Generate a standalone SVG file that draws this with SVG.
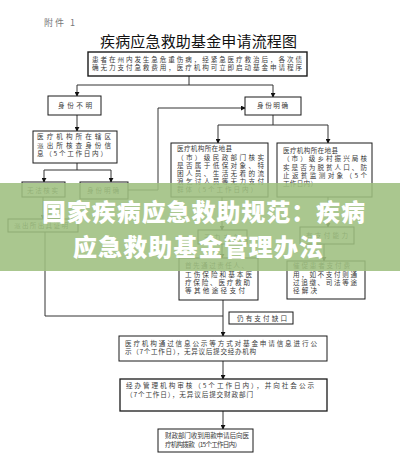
<svg xmlns="http://www.w3.org/2000/svg" width="400" height="457" viewBox="0 0 400 457">
<style>
.b{fill:#fff;stroke:#1a1a1a;stroke-width:1}
.t{font-family:"Noto Sans CJK SC","Noto Sans",sans-serif;font-size:6.6px;fill:#3a3a3a}
.c{fill:none;stroke:#333;stroke-width:1}
.ban{font-family:"Noto Sans CJK SC","Noto Sans",sans-serif;font-size:24px;font-weight:900;fill:#fff}
</style>
<defs>
<marker id="ar" viewBox="0 0 6 6" refX="5" refY="3" markerWidth="5" markerHeight="5" orient="auto" markerUnits="userSpaceOnUse">
<path d="M0,0 L6,3 L0,6 z" fill="#111"/>
</marker>
</defs>
<rect width="400" height="457" fill="#fff"/>
<text x="44" y="26" style="font-family:'Noto Sans CJK SC',sans-serif;font-size:9px;fill:#777" textLength="31" lengthAdjust="spacing">附件 1</text>
<text x="100" y="47" style="font-family:'Noto Sans CJK SC',sans-serif;font-size:15px;fill:#111" textLength="197" lengthAdjust="spacing">疾病应急救助基金申请流程图</text>

<g id="connectors">
<path class="c" d="M189,76 V85 M77,85 H273"/>
<path class="c" d="M77,85 V96" marker-end="url(#ar)"/>
<path class="c" d="M273,85 V97" marker-end="url(#ar)"/>
<path class="c" d="M77,115 V131" marker-end="url(#ar)"/>
<path class="c" d="M77,163 V170 M44,170 H111"/>
<path class="c" d="M44,170 V182" marker-end="url(#ar)"/>
<path class="c" d="M111,170 V182" marker-end="url(#ar)"/>
<path class="c" d="M128,190 H158 V108 H245" marker-end="url(#ar)"/>
<path class="c" d="M273,115 V125 M218,125 H328"/>
<path class="c" d="M218,125 V143" marker-end="url(#ar)"/>
<path class="c" d="M328,125 V143" marker-end="url(#ar)"/>
<path class="c" d="M43,197 V219" marker-end="url(#ar)"/>
<path class="c" d="M45,232 V316 H223"/>
<path class="c" d="M222,197 V230" marker-end="url(#ar)"/>
<path class="c" d="M328,197 V227" marker-end="url(#ar)"/>
<path class="c" d="M222,244 V258" marker-end="url(#ar)"/>
<path class="c" d="M324,244 V261" marker-end="url(#ar)"/>
<path class="c" d="M223,300 V336" marker-end="url(#ar)"/>
<path class="c" d="M223,361 V379" marker-end="url(#ar)"/>
<path class="c" d="M223,411 V429" marker-end="url(#ar)"/>
</g>

<g id="start">
<rect class="b" x="88" y="52" width="219" height="24" style="stroke-width:1.4"/>
<text class="t" x="92" y="62" textLength="210" lengthAdjust="spacing">患者在州内发生急危重伤病，经紧急医疗救治后，各次债</text>
<text class="t" x="92" y="70" textLength="210" lengthAdjust="spacing">确无力支付急救费用，医疗机构可立即启动基金申请程序</text>
</g>
<g id="unknown">
<rect class="b" x="48" y="96" width="53" height="19"/>
<text class="t" x="58" y="108" textLength="34" lengthAdjust="spacing">身份不明</text>
</g>
<g id="known">
<rect class="b" x="245" y="97" width="56" height="18"/>
<text class="t" x="257" y="108" textLength="31" lengthAdjust="spacing">身份明确</text>
</g>
<g id="police">
<rect class="b" x="33" y="131" width="84" height="32"/>
<text class="t" x="37" y="139" textLength="74" lengthAdjust="spacing">医疗机构所在辖区</text>
<text class="t" x="37" y="148" textLength="74" lengthAdjust="spacing">派出所核查身份信</text>
<text class="t" x="37" y="156" textLength="70" lengthAdjust="spacing">息（5个工作日内）</text>
</g>
<g id="cannot">
<rect class="b" x="22" y="182" width="43" height="15"/>
<text class="t" x="27" y="193" textLength="31" lengthAdjust="spacing">无法核实</text>
</g>
<g id="known2">
<rect class="b" x="80" y="182" width="48" height="17"/>
<text class="t" x="87" y="193" textLength="32" lengthAdjust="spacing">身份明确</text>
</g>
<g id="civil">
<rect class="b" x="171" y="143" width="97" height="54"/>
<text class="t" x="177" y="151" textLength="55" lengthAdjust="spacing">医疗机构所在地县</text>
<text class="t" x="177" y="160" textLength="87" lengthAdjust="spacing">（市）级民政部门核实</text>
<text class="t" x="177" y="168" textLength="87" lengthAdjust="spacing">是否属于低保对象、特</text>
<text class="t" x="177" y="176" textLength="87" lengthAdjust="spacing">困人员、生活无着的流</text>
<text class="t" x="177" y="184" textLength="87" lengthAdjust="spacing">浪乞讨人员等无力支付</text>
<text class="t" x="177" y="192" textLength="80" lengthAdjust="spacing">群体（5个工作日内）</text>
</g>
<g id="rural">
<rect class="b" x="277" y="143" width="95" height="54"/>
<text class="t" x="283" y="153" textLength="55" lengthAdjust="spacing">医疗机构所在地县</text>
<text class="t" x="283" y="161" textLength="84" lengthAdjust="spacing">（市）级乡村振兴局核</text>
<text class="t" x="283" y="170" textLength="84" lengthAdjust="spacing">实是否为脱贫人口、防</text>
<text class="t" x="283" y="178" textLength="84" lengthAdjust="spacing">止返贫监测对象（5个</text>
<text class="t" x="283" y="186" textLength="34" lengthAdjust="spacing">工作日内）</text>
</g>
<g id="proof">
<rect class="b" x="8" y="219" width="70" height="13"/>
<text class="t" x="14" y="228" textLength="54" lengthAdjust="spacing">派出所出具证明</text>
</g>
<g id="nopay">
<rect class="b" x="198" y="230" width="49" height="14"/>
<text class="t" x="204" y="240" textLength="36" lengthAdjust="spacing">无力支付</text>
</g>
<g id="canpay">
<rect class="b" x="300" y="227" width="54" height="17"/>
<text class="t" x="306" y="238" textLength="42" lengthAdjust="spacing">有支付能力</text>
</g>
<g id="first">
<rect class="b" x="179" y="258" width="79" height="42"/>
<text class="t" x="185" y="268" textLength="63" lengthAdjust="spacing">首先通过责任人、</text>
<text class="t" x="185" y="277" textLength="67" lengthAdjust="spacing">工伤保险和基本医</text>
<text class="t" x="185" y="285" textLength="65" lengthAdjust="spacing">疗保险、医疗救助</text>
<text class="t" x="185" y="293" textLength="60" lengthAdjust="spacing">等其他途径支付</text>
</g>
<g id="urge">
<rect class="b" x="287" y="261" width="78" height="38"/>
<text class="t" x="293" y="268" textLength="57" lengthAdjust="spacing">催促患者支付费</text>
<text class="t" x="293" y="277" textLength="64" lengthAdjust="spacing">用，如不支付则通</text>
<text class="t" x="293" y="285" textLength="64" lengthAdjust="spacing">过追缴、司法等途</text>
<text class="t" x="293" y="293" textLength="24" lengthAdjust="spacing">径解决</text>
</g>
<g id="gap">
<rect class="b" x="229" y="312" width="64" height="12"/>
<text class="t" x="237" y="321" textLength="50" lengthAdjust="spacing">仍有支付缺口</text>
</g>
<g id="publicity">
<rect class="b" x="119" y="336" width="208" height="25"/>
<text class="t" x="125" y="346" textLength="192" lengthAdjust="spacing">医疗机构通过信息公示等方式对基金申请信息进行公</text>
<text class="t" x="125" y="354" textLength="131" lengthAdjust="spacing">示（7个工作日），无异议后提交经办机构</text>
</g>
<g id="review">
<rect class="b" x="120" y="379" width="207" height="32" style="stroke-width:1.3"/>
<text class="t" x="126" y="388" textLength="188" lengthAdjust="spacing">经办管理机构审核（5个工作日内），并向社会公示</text>
<text class="t" x="126" y="397" textLength="127" lengthAdjust="spacing">（7个工作日），无异议后提交财政部门</text>
</g>
<g id="finance">
<rect class="b" x="158" y="429" width="95" height="23"/>
<text class="t" x="165" y="438" textLength="84" lengthAdjust="spacing">财政部门收到用款申请后向医</text>
<text class="t" x="165" y="447" textLength="76" lengthAdjust="spacing">疗机构拨款（15个工作日内）</text>
</g>

<g id="banner">
<rect x="0" y="183" width="400" height="88" fill="#9ebf7f" fill-opacity="0.88"/>
<text class="ban" x="42" y="221" textLength="323" lengthAdjust="spacing">国家疾病应急救助规范：疾病</text>
<text class="ban" x="73" y="256" textLength="250" lengthAdjust="spacing">应急救助基金管理办法</text>
</g>
</svg>
